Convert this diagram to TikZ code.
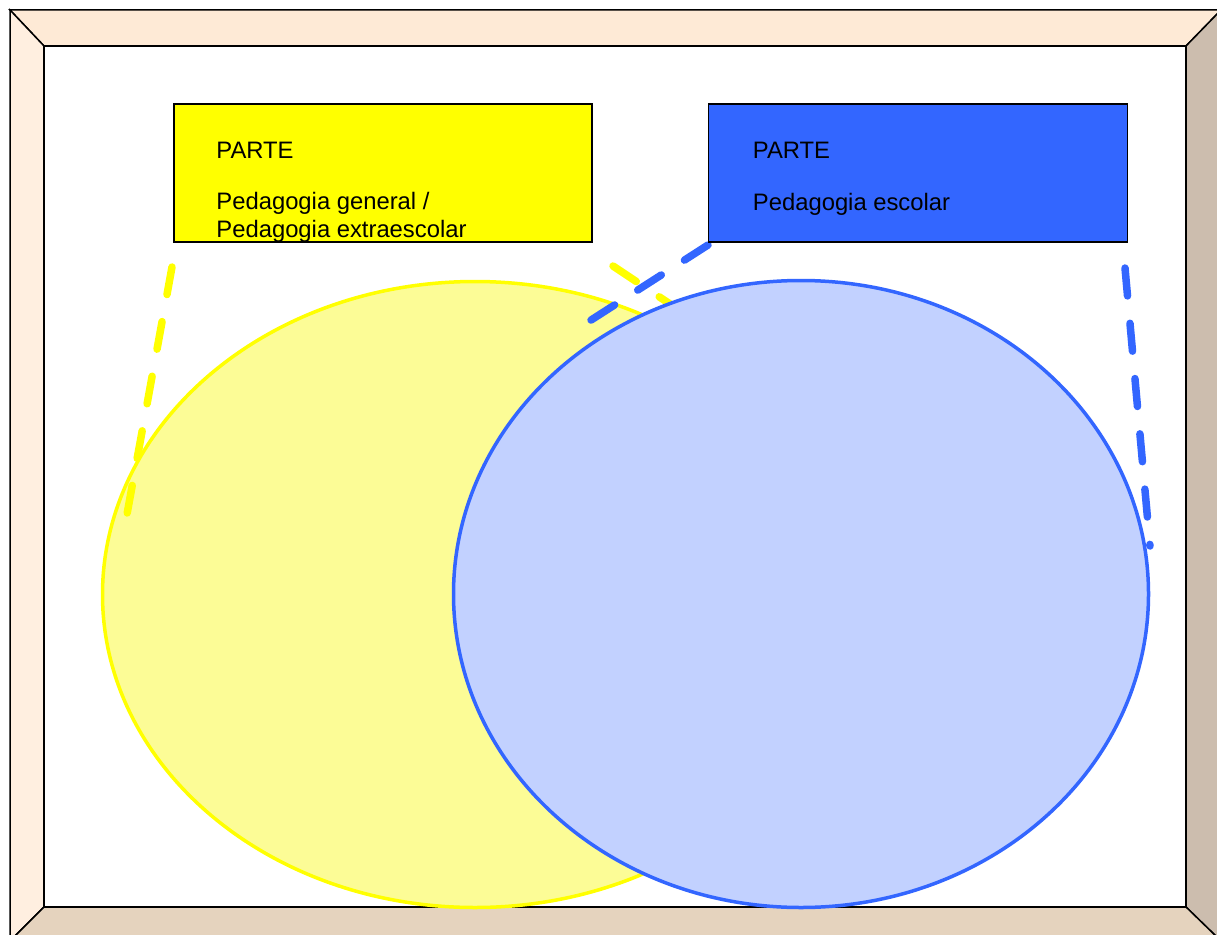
\documentclass[tikz,border=0pt]{standalone}
\usepackage{fontspec}
\setmainfont{Liberation Sans}
\usepackage{tikz}
\usetikzlibrary{positioning,calc,shapes.geometric}
\definecolor{frametop}{RGB}{254,234,214}
\definecolor{frameleft}{RGB}{255,239,224}
\definecolor{frameright}{RGB}{204,189,174}
\definecolor{framebottom}{RGB}{229,211,190}
\definecolor{partyellow}{RGB}{255,255,0}
\definecolor{partblue}{RGB}{51,102,255}
\definecolor{setyellow}{RGB}{252,252,150}
\definecolor{setblue}{RGB}{194,209,255}
\tikzset{
  frameside/.style={draw=black, line width=1.5pt, line join=miter},
  partbox/.style={rectangle, draw=black, line width=1.5pt, inner sep=0pt,
    minimum width=418, minimum height=138},
  parttext/.style={anchor=base west, inner sep=0pt, font=\fontsize{23.8}{28}\selectfont},
  setellipse/.style={ellipse, line width=3.5pt, inner sep=0pt},
  callout/.style={line width=7.5pt, line cap=round, dash pattern=on 28pt off 27.5pt}
}

\begin{document}
\begin{tikzpicture}[x=1pt, y=-1pt]
  \useasboundingbox (0,0) rectangle (1217,934);
  \clip (0,0) rectangle (1217,934);
  % frame
  \draw[frameside, fill=frametop] (10,10) -- (1221,10) -- (1186,46) -- (44,46) -- cycle;
  \draw[frameside, fill=frameleft] (10,10) -- (44,46) -- (44,907) -- (10,941) -- cycle;
  \draw[frameside, fill=frameright] (1221,10) -- (1221,941) -- (1186,907) -- (1186,46) -- cycle;
  \draw[frameside, fill=framebottom] (10,941) -- (44,907) -- (1186,907) -- (1221,941) -- cycle;
  \draw[frameside, fill=white] (44,46) rectangle (1186,907);

  \node[setellipse, draw=partyellow, fill=setyellow, minimum width=745, minimum height=626]
    (yset) at (475,594.5) {};
  \coordinate (yl1) at (172,267);
  \coordinate (yl2) at (126.5,517);
  \coordinate (yr1) at (613,266);
  \coordinate (yr2) at (700,324);
  \draw[callout, partyellow] (yl1) -- (yl2);
  \draw[callout, partyellow] (yr1) -- (yr2);

  \node[setellipse, draw=partblue, fill=setblue, minimum width=695, minimum height=627]
    (bset) at (801,594) {};
  \coordinate (bl1) at (708,245);
  \coordinate (bl2) at (588,322);
  \coordinate (br1) at (1125,268);
  \coordinate (br2) at (1150,546);
  \draw[callout, partblue] (bl1) -- (bl2);
  \draw[callout, partblue] (br1) -- (br2);

  \node[partbox, fill=partyellow] (ybox) at (383,173) {};
  \node[partbox, fill=partblue, minimum width=419, right=115pt of ybox] (bbox) {};

  \node[parttext] (ytitle) at ($(ybox.north west)+(43,55)$) {PARTE};
  \node[parttext] (yline1) at ($(ytitle.base west)+(0,51)$) {Pedagogia general /};
  \node[parttext] (yline2) at ($(yline1.base west)+(0,28)$) {Pedagogia extraescolar};
  \node[parttext] (btitle) at ($(bbox.north west)+(45,55)$) {PARTE};
  \node[parttext] (bline1) at ($(btitle.base west)+(0,52)$) {Pedagogia escolar};
\end{tikzpicture}
\end{document}
